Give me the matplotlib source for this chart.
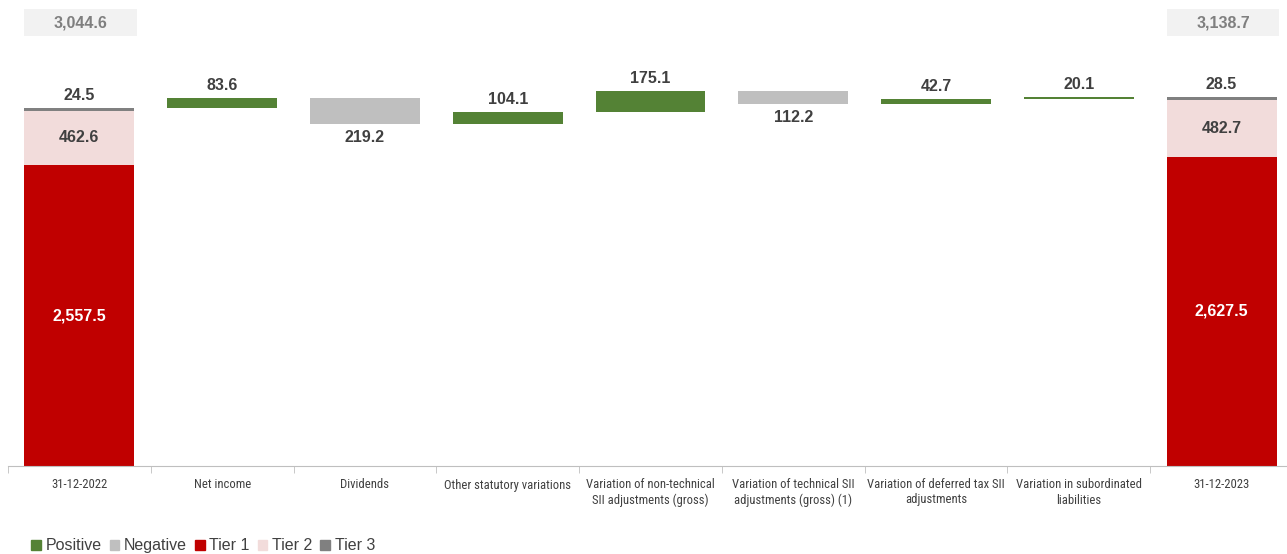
import matplotlib
matplotlib.use("Agg")
import matplotlib.pyplot as plt
from matplotlib.patches import Patch, Rectangle
import matplotlib.transforms as mtransforms
from matplotlib import font_manager

categories = ["31-12-2022", "Net income", "Dividends", "Other statutory variations",
              "Variation of non-technical\nSII adjustments (gross)",
              "Variation of technical SII\nadjustments (gross) (1)",
              "Variation of deferred tax SII\nadjustments",
              "Variation in subordinated\nliabilities", "31-12-2023"]
start_tiers = [2557.5, 462.6, 24.5]   # Tier 1, Tier 2, Tier 3
end_tiers = [2627.5, 482.7, 28.5]
start_total = 3044.6
end_total = 3138.7
changes = [83.6, -219.2, 104.1, 175.1, -112.2, 42.7, 20.1]

GREEN = "#548235"
GREY = "#bfbfbf"
RED = "#c00000"
PINK = "#f2dcdb"
T3 = "#808080"
LABEL = "#404040"

names = set(f.name for f in font_manager.fontManager.ttflist)
narrow = None
for cand in ["Liberation Sans Narrow", "Arial Narrow", "Roboto Condensed",
             "Open Sans Condensed", "Noto Sans Condensed"]:
    if cand in names:
        narrow = cand
        break
plt.rcParams['font.family'] = ["Liberation Sans", 'DejaVu Sans']
tick_family = [narrow, "DejaVu Sans"] if narrow else ["Liberation Sans", "DejaVu Sans"]
tick_size = 9.1 if narrow else 8.3

fig = plt.figure(figsize=(12.87, 5.54), dpi=100)
ax = fig.add_axes([8/1287, 88/554, 1285/1287, 466/554])
ax.set_xlim(-0.5, len(categories) - 0.5)
ax.set_ylim(0, 3962)

W = 0.77
tier_colors = [RED, PINK, T3]

def stack(x, tiers, total):
    bottom = 0
    for v, c in zip(tiers, tier_colors):
        ax.bar(x, v, W, bottom=bottom, color=c, linewidth=0)
        bottom += v
    ax.text(x, tiers[0] / 2, f"{tiers[0]:,.1f}", ha="center", va="center",
            color="white", fontsize=11.5, fontweight="bold")
    ax.text(x, tiers[0] + tiers[1] / 2, f"{tiers[1]:,.1f}", ha="center", va="center",
            color=LABEL, fontsize=11.5, fontweight="bold")
    ax.text(x, bottom + 40, f"{tiers[2]:,.1f}", ha="center", va="bottom",
            color=LABEL, fontsize=11.5, fontweight="bold")
    trans = mtransforms.blended_transform_factory(ax.transData, ax.transAxes)
    ax.add_patch(Rectangle((x - W / 2, 1 - 36/466), W + 0.02, 27/466, transform=trans,
                           facecolor="#f2f2f2", edgecolor="none", clip_on=False))
    ax.text(x + 0.01, 1 - 22.5/466, f"{total:,.1f}", transform=trans, ha="center", va="center",
            color="#7f7f7f", fontsize=11.5, fontweight="bold")

stack(0, start_tiers, start_total)

running = start_total
for i, d in enumerate(changes, start=1):
    if d >= 0:
        ax.bar(i, d, W, bottom=running, color=GREEN, linewidth=0)
        ax.text(i, running + d + 40, f"{d:,.1f}", ha="center", va="bottom",
                color=LABEL, fontsize=11.5, fontweight="bold")
    else:
        ax.bar(i, -d, W, bottom=running + d, color=GREY, linewidth=0)
        ax.text(i, running + d - 50, f"{-d:,.1f}", ha="center", va="top",
                color=LABEL, fontsize=11.5, fontweight="bold")
    running += d

stack(len(categories) - 1, end_tiers, end_total)

for s in ["top", "right", "left"]:
    ax.spines[s].set_visible(False)
ax.spines["bottom"].set_color("#bfbfbf")
ax.set_yticks([])
ax.set_xticks(range(len(categories)))
ax.set_xticklabels(categories, fontsize=tick_size, color="#404040", linespacing=1.2,
                   family=tick_family)
ax.tick_params(axis="x", which="major", length=0, pad=9)
ax.set_xticks([i - 0.5 for i in range(len(categories) + 1)], minor=True)
ax.tick_params(axis="x", which="minor", length=5, color="#bfbfbf", direction="out")

handles = [Patch(color=GREEN, label="Positive"), Patch(color=GREY, label="Negative"),
           Patch(color=RED, label="Tier 1"), Patch(color=PINK, label="Tier 2"),
           Patch(color=T3, label="Tier 3")]
fig.legend(handles=handles, loc="lower left", bbox_to_anchor=(0.013, -0.025), ncol=5,
           frameon=False, fontsize=11.5, handlelength=0.6, handleheight=0.6,
           handletextpad=0.3, columnspacing=0.5, labelcolor="#404040")

fig.savefig("out.png", dpi=100)
